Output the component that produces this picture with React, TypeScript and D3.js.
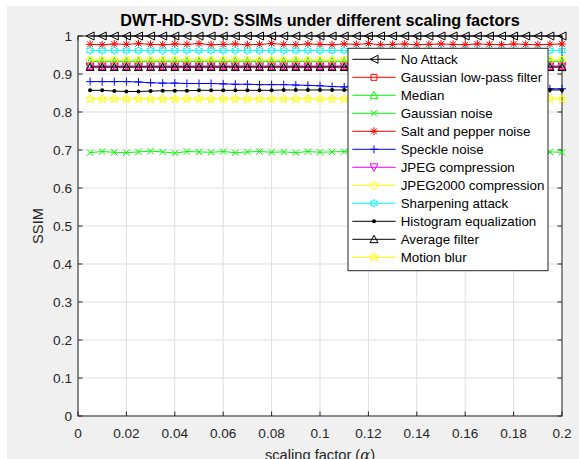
import React from "react";
import * as d3 from "d3";

const alphas = [0.005,0.01,0.015,0.02,0.025,0.03,0.035,0.04,0.045,0.05,0.055,0.06,0.065,0.07,0.075,0.08,0.085,0.09,0.095,0.1,0.105,0.11,0.115,0.12,0.125,0.13,0.135,0.14,0.145,0.15,0.155,0.16,0.165,0.17,0.175,0.18,0.185,0.19,0.195,0.2];

const noAttack = [1,1,1,1,1,1,1,1,1,1,1,1,1,1,1,1,1,1,1,1,1,1,1,1,1,1,1,1,1,1,1,1,1,1,1,1,1,1,1,1];
const gaussLPF = [0.920,0.920,0.920,0.920,0.920,0.920,0.920,0.920,0.920,0.920,0.920,0.920,0.920,0.920,0.920,0.920,0.920,0.920,0.920,0.920,0.920,0.920,0.920,0.920,0.920,0.920,0.920,0.920,0.920,0.920,0.920,0.920,0.920,0.920,0.920,0.920,0.920,0.920,0.920,0.920];
const median = [0.933,0.933,0.933,0.933,0.933,0.933,0.933,0.933,0.933,0.933,0.933,0.933,0.933,0.933,0.933,0.933,0.933,0.933,0.933,0.933,0.933,0.933,0.933,0.933,0.933,0.933,0.933,0.933,0.933,0.933,0.933,0.933,0.933,0.933,0.933,0.933,0.933,0.933,0.933,0.933];
const gaussNoise = [0.693,0.696,0.694,0.693,0.695,0.697,0.695,0.692,0.696,0.695,0.694,0.696,0.693,0.695,0.696,0.694,0.695,0.693,0.696,0.694,0.695,0.696,0.693,0.695,0.694,0.696,0.695,0.693,0.694,0.696,0.695,0.694,0.693,0.696,0.695,0.694,0.696,0.693,0.695,0.694];
const saltPepper = [0.978,0.977,0.979,0.978,0.980,0.978,0.977,0.979,0.978,0.980,0.977,0.978,0.979,0.977,0.978,0.980,0.978,0.977,0.979,0.978,0.977,0.979,0.978,0.980,0.977,0.978,0.979,0.977,0.978,0.979,0.978,0.977,0.979,0.978,0.977,0.979,0.978,0.977,0.978,0.979];
const speckle = [0.880,0.880,0.880,0.880,0.879,0.877,0.876,0.876,0.875,0.875,0.875,0.874,0.873,0.873,0.872,0.872,0.872,0.871,0.870,0.869,0.867,0.866,0.866,0.865,0.865,0.864,0.864,0.864,0.863,0.863,0.863,0.862,0.862,0.862,0.862,0.861,0.861,0.861,0.861,0.861];
const jpeg = [0.921,0.921,0.921,0.921,0.921,0.921,0.921,0.921,0.921,0.921,0.921,0.921,0.921,0.921,0.921,0.921,0.921,0.921,0.921,0.921,0.921,0.921,0.921,0.921,0.921,0.921,0.921,0.921,0.921,0.921,0.921,0.921,0.921,0.921,0.921,0.921,0.921,0.921,0.921,0.921];
const jpeg2000 = [0.937,0.937,0.937,0.937,0.937,0.937,0.937,0.937,0.937,0.937,0.937,0.937,0.937,0.937,0.937,0.937,0.937,0.937,0.937,0.937,0.937,0.937,0.937,0.937,0.937,0.937,0.937,0.937,0.937,0.937,0.937,0.937,0.937,0.937,0.937,0.937,0.937,0.937,0.937,0.937];
const sharpening = [0.962,0.962,0.962,0.962,0.962,0.962,0.962,0.962,0.962,0.962,0.962,0.962,0.962,0.962,0.962,0.962,0.962,0.962,0.962,0.962,0.962,0.962,0.962,0.962,0.962,0.962,0.962,0.962,0.962,0.962,0.962,0.962,0.962,0.962,0.962,0.962,0.962,0.962,0.962,0.962];
const histEq = [0.857,0.857,0.855,0.854,0.854,0.855,0.856,0.856,0.856,0.857,0.857,0.857,0.857,0.857,0.857,0.857,0.858,0.858,0.858,0.858,0.858,0.858,0.858,0.858,0.858,0.858,0.858,0.858,0.858,0.858,0.858,0.858,0.858,0.858,0.858,0.858,0.858,0.858,0.858,0.858];
const averageFilter = [0.918,0.918,0.918,0.918,0.918,0.918,0.918,0.918,0.918,0.918,0.918,0.918,0.918,0.918,0.918,0.918,0.918,0.918,0.918,0.918,0.918,0.918,0.918,0.918,0.918,0.918,0.918,0.918,0.918,0.918,0.918,0.918,0.918,0.918,0.918,0.918,0.918,0.918,0.918,0.918];
const motionBlur = [0.834,0.834,0.834,0.834,0.834,0.834,0.834,0.834,0.834,0.834,0.834,0.834,0.834,0.834,0.834,0.834,0.834,0.834,0.834,0.834,0.834,0.834,0.834,0.834,0.834,0.834,0.834,0.834,0.834,0.834,0.834,0.834,0.834,0.834,0.834,0.834,0.834,0.834,0.834,0.834];

const seriesNames = ["No Attack","Gaussian low-pass filter","Median","Gaussian noise","Salt and pepper noise","Speckle noise","JPEG compression","JPEG2000 compression","Sharpening attack","Histogram equalization","Average filter","Motion blur"];
const seriesValues = [noAttack,gaussLPF,median,gaussNoise,saltPepper,speckle,jpeg,jpeg2000,sharpening,histEq,averageFilter,motionBlur];
const seriesColors = ["#000000","#ff0000","#00ff00","#00ff00","#ff0000","#0000ff","#ff00ff","#ffff00","#00ffff","#000000","#000000","#ffff00"];
const seriesMarkers = ["<","s","^","x","*","+","v","o","h",".","^","p"];

const xTicks = [0,0.02,0.04,0.06,0.08,0.1,0.12,0.14,0.16,0.18,0.2];
const xTickLabels = ["0","0.02","0.04","0.06","0.08","0.1","0.12","0.14","0.16","0.18","0.2"];
const yTicks = [0,0.1,0.2,0.3,0.4,0.5,0.6,0.7,0.8,0.9,1];
const yTickLabels = ["0","0.1","0.2","0.3","0.4","0.5","0.6","0.7","0.8","0.9","1"];

const W = 579, H = 459;
const L = 78, R = 562, T = 36, B = 416;
const FONT = "'Liberation Sans', Arial, Helvetica, sans-serif";

function star(n: number, ro: number, ri: number) {
  const pts: string[] = [];
  for (let i = 0; i < 2 * n; i++) {
    const r = i % 2 === 0 ? ro : ri;
    const a = -Math.PI / 2 + (i * Math.PI) / n;
    pts.push(`${(r * Math.cos(a)).toFixed(2)},${(r * Math.sin(a)).toFixed(2)}`);
  }
  return "M" + pts.join("L") + "Z";
}

function markerPath(m: string): string {
  const r = 4;
  switch (m) {
    case "<": return `M${r},${-r}L${-r},0L${r},${r}Z`;
    case "^": return `M${-r},${r * 0.85}L0,${-r}L${r},${r * 0.85}Z`;
    case "v": return `M${-r},${-r * 0.85}L0,${r}L${r},${-r * 0.85}Z`;
    case "s": return "M-3,-3L3,-3L3,3L-3,3Z";
    case "x": return "M-3.2,-3.2L3.2,3.2M-3.2,3.2L3.2,-3.2";
    case "+": return "M-4,0L4,0M0,-4L0,4";
    case "*": return "M-4,0L4,0M0,-4L0,4M-2.9,-2.9L2.9,2.9M-2.9,2.9L2.9,-2.9";
    case "o": return "M3.6,0A3.6,3.6 0 1,1 -3.6,0A3.6,3.6 0 1,1 3.6,0Z";
    case "h": return star(6, 4, 2.4);
    case "p": return star(5, 4.6, 1.9);
    default: return "";
  }
}

function Marker({ m, x, y, color }: { m: string; x: number; y: number; color: string }) {
  if (m === ".") return <circle cx={x} cy={y} r={2} fill={color} stroke="none" />;
  return <path d={markerPath(m)} transform={`translate(${x},${y})`} fill="none" stroke={color} strokeWidth={1} />;
}

export default function App() {
  const x = d3.scaleLinear().domain([0, 0.2]).range([L, R]);
  const y = d3.scaleLinear().domain([0, 1]).range([B, T]);
  const line = d3.line<number>().x((_, i) => x(alphas[i])).y((d) => y(d));

  const legX = 348, legY = 48.3, legW = 200, legH = 222.4, rowH = 18;

  return (
    <svg width={W} height={H} style={{ position: "absolute", left: 0, top: 0 }} fontFamily={FONT}>
      <rect x={0} y={0} width={W} height={H} fill="#ffffff" />
      <rect x={7} y={6} width={W - 7} height={H - 6} fill="#f0f0f0" />
      <rect x={L} y={T} width={R - L} height={B - T} fill="#ffffff" />
      {xTicks.map((t, i) => (
        <line key={"gx" + i} x1={x(t)} x2={x(t)} y1={T} y2={B} stroke="#dfdfdf" strokeWidth={1} />
      ))}
      {yTicks.map((t, i) => (
        <line key={"gy" + i} x1={L} x2={R} y1={y(t)} y2={y(t)} stroke="#dfdfdf" strokeWidth={1} />
      ))}
      <rect x={L} y={T} width={R - L} height={B - T} fill="none" stroke="#262626" strokeWidth={1} />
      {xTicks.map((t, i) => (
        <g key={"tx" + i}>
          <line x1={x(t)} x2={x(t)} y1={B} y2={B - 4.5} stroke="#262626" />
          <line x1={x(t)} x2={x(t)} y1={T} y2={T + 4.5} stroke="#262626" />
          <text x={x(t)} y={438} textAnchor="middle" fontSize={13.6} fill="#262626">{xTickLabels[i]}</text>
        </g>
      ))}
      {yTicks.map((t, i) => (
        <g key={"ty" + i}>
          <line x1={L} x2={L + 4.5} y1={y(t)} y2={y(t)} stroke="#262626" />
          <line x1={R} x2={R - 4.5} y1={y(t)} y2={y(t)} stroke="#262626" />
          <text x={72} y={y(t)} dy="0.35em" textAnchor="end" fontSize={13.6} fill="#262626">{yTickLabels[i]}</text>
        </g>
      ))}
      {seriesValues.map((vals, si) => (
        <g key={"s" + si}>
          <path d={line(vals) || ""} fill="none" stroke={seriesColors[si]} strokeWidth={1} />
          {vals.map((v, j) => (
            <Marker key={j} m={seriesMarkers[si]} x={x(alphas[j])} y={y(v)} color={seriesColors[si]} />
          ))}
        </g>
      ))}
      <text x={(L + R) / 2} y={26} textAnchor="middle" fontSize={16.2} fontWeight="bold" fill="#000">DWT-HD-SVD: SSIMs under different scaling factors</text>
      <text x={(L + R) / 2} y={460} textAnchor="middle" fontSize={14.67} fill="#262626">
        scaling factor (<tspan fontStyle="italic" fontFamily="'DejaVu Serif', serif">α</tspan>)
      </text>
      <text transform={`translate(43,${(T + B) / 2}) rotate(-90)`} textAnchor="middle" fontSize={14.67} fill="#262626">SSIM</text>
      <rect x={legX} y={legY} width={legW} height={legH} fill="#ffffff" stroke="#262626" strokeWidth={1} />
      {seriesNames.map((name, i) => {
        const cy = 59.3 + i * rowH;
        return (
          <g key={"l" + i}>
            <line x1={352.3} x2={395.7} y1={cy} y2={cy} stroke={seriesColors[i]} strokeWidth={1} />
            <Marker m={seriesMarkers[i]} x={374} y={cy} color={seriesColors[i]} />
            <text x={400.7} y={cy} dy="0.35em" fontSize={13.33} fill="#000">{name}</text>
          </g>
        );
      })}
    </svg>
  );
}
